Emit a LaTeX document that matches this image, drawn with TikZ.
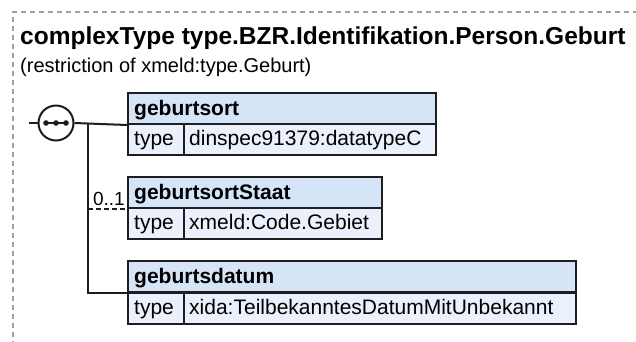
\documentclass[tikz,border=0pt]{standalone}
\usepackage{fontspec}
\setmainfont{Liberation Sans}
\usetikzlibrary{calc}
\definecolor{hdr}{HTML}{D6E4F8}
\definecolor{rowc}{HTML}{EAF1FC}
\definecolor{frm}{HTML}{A0A0A0}
\definecolor{ink}{HTML}{1E1E1E}
\tikzset{
  cellbox/.style={draw=ink, line width=2pt, inner sep=0pt, anchor=north west, minimum height=31pt},
  hdrbox/.style={cellbox, fill=hdr},
  rowbox/.style={cellbox, fill=rowc},
  boxtxt/.style={anchor=base west, inner sep=0pt, font=\fontsize{21}{25}\selectfont},
  hdrtxt/.style={boxtxt, font=\fontsize{21}{25}\selectfont\bfseries},
  conn/.style={draw=ink, line width=2pt},
}
\begin{document}
\begin{tikzpicture}[x=1pt,y=-1pt]
\useasboundingbox (0,0) rectangle (636,341);
\clip (0,0) rectangle (636,341);
\fill[white] (0,0) rectangle (636,341);
% frame
\draw[frm, line width=1.2pt, dash pattern=on 5pt off 4pt] (13,400) -- (13,12) -- (700,12);
% title
\node[anchor=base west, inner sep=0pt, font=\fontsize{24.5}{28}\selectfont\bfseries] (title) at (20,44) {complexType type.BZR.Identifikation.Person.Geburt};
\node[anchor=base west, inner sep=0pt, font=\fontsize{20}{24}\selectfont] (sub) at (20,72) {(restriction of xmeld:type.Geburt)};
% box 1
\node[hdrbox, minimum width=308pt] (h1) at (127,92) {};
\node[rowbox, minimum width=56pt] (t1) at (127,123) {};
\node[rowbox, minimum width=252pt] (v1) at (183,123) {};
\node[hdrtxt] (h1t) at (134,115) {geburtsort};
\node[boxtxt] (t1t) at (134,145) {type};
\node[boxtxt] (v1t) at (189,145) {dinspec91379:datatypeC};
% box 2
\node[hdrbox, minimum width=254pt] (h2) at (127,176) {};
\node[rowbox, minimum width=56pt] (t2) at (127,207) {};
\node[rowbox, minimum width=198pt] (v2) at (183,207) {};
\node[hdrtxt] (h2t) at (134,199) {geburtsortStaat};
\node[boxtxt] (t2t) at (134,229) {type};
\node[boxtxt] (v2t) at (189,229) {xmeld:Code.Gebiet};
% box 3
\node[hdrbox, minimum width=448pt] (h3) at (127,260) {};
\node[rowbox, minimum width=56pt] (t3) at (127,292) {};
\node[rowbox, minimum width=392pt] (v3) at (183,292) {};
\node[hdrtxt] (h3t) at (134,283) {geburtsdatum};
\node[boxtxt] (t3t) at (134,314) {type};
\node[boxtxt] (v3t) at (189,314) {xida:TeilbekanntesDatumMitUnbekannt};
% sequence symbol
\coordinate (in) at (29,123);
\node[draw=ink, line width=2pt, circle, minimum size=35pt, inner sep=0pt, fill=white] (seq) at (56,123) {};
\draw[conn] (in) -- (seq.west);
\draw[ink, line width=2pt] (46,123) -- (66,123);
\foreach \x in {46,56,66} \fill[ink] (\x,123) circle (2.8pt);
\coordinate (fork) at (88,123);
\draw[conn] (seq.east) -- (h1.south west);
\draw[conn] (fork) |- (h3.south west);
\draw[conn, line width=1.6pt, dash pattern=on 5pt off 3pt] (fork |- h2.south west) -- (h2.south west);
\node[anchor=base east, inner sep=0pt, font=\fontsize{19}{22}\selectfont] (m2) at (125,205) {0..1};
\end{tikzpicture}
\end{document}
